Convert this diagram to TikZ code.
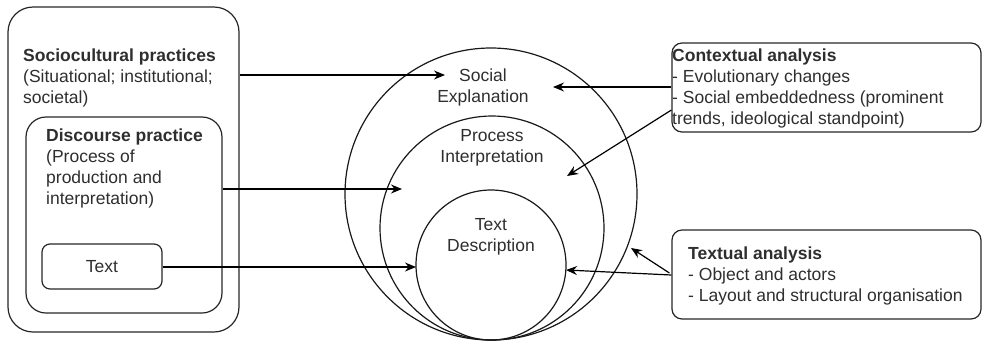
\documentclass[tikz,border=0pt]{standalone}
\usepackage{fontspec}
\setmainfont{Liberation Sans}
\usetikzlibrary{arrows.meta,calc}
\begin{document}
\begin{tikzpicture}[x=1pt,y=-1pt,
  every node/.style={font=\fontsize{17.5}{21}\selectfont, text=black!82},
  box/.style={draw=black!85, line width=1.2pt, fill=none},
  ring/.style={draw=black!90, line width=1.2pt, circle, inner sep=0pt},
  lbl/.style={align=left, inner sep=0pt},
  clbl/.style={align=center, inner sep=0pt},
  arr/.style={draw=black, line width=1.2pt, -{Stealth[length=11pt,width=9pt]}}]
\useasboundingbox (0,0) rectangle (982,341);
% boxes
\node[box, rounded corners=25pt, minimum width=231pt, minimum height=325pt] (socio) at (123.5,169.5) {};
\node[box, rounded corners=20pt, minimum width=196pt, minimum height=196pt] (disc) at (124,215) {};
\node[box, rounded corners=8pt, minimum width=120pt, minimum height=45pt] (textbox) at (102,266.5) {Text};
\node[box, rounded corners=10pt, minimum width=309pt, minimum height=89pt] (ctx) at (826.5,87.5) {};
\node[box, rounded corners=10pt, minimum width=309pt, minimum height=89pt] (txt) at (826.5,274.5) {};
% circles
\node[ring, minimum size=292pt] (outer) at (491,194) {};
\node[ring, minimum size=224pt] (mid) at (492,228) {};
\node[ring, minimum size=150pt] (inner) at (491,265) {};
% texts
\node[lbl, anchor=west] (sociot) at (23,78) {\textbf{Sociocultural practices}\\(Situational; institutional;\\societal)};
\node[lbl, anchor=west] (disct) at (46,168) {\textbf{Discourse practice}\\(Process of\\production and\\interpretation)};
\node[lbl, anchor=west] (ctxt) at (672,88) {\textbf{Contextual analysis}\\- Evolutionary changes\\- Social embeddedness (prominent\\trends, ideological standpoint)};
\node[lbl, anchor=west] (txtt) at (688,276) {\textbf{Textual analysis}\\- Object and actors\\- Layout and structural organisation};
\node[clbl] (soc) at (483,87) {Social\\Explanation};
\node[clbl] (proc) at (492,148) {Process\\Interpretation};
\node[clbl] (tdesc) at (491,237) {Text\\Description};
% arrow targets
\coordinate (tA) at (445,75);
\coordinate (tB) at (402,189);
\coordinate (tC) at (416,267);
\coordinate (tD) at (553,87);
\coordinate (tE) at (567,176);
\coordinate (tF) at (631,248);
\coordinate (tG) at (566,270);
% arrows
\draw[arr] (socio.east |- tA) -- (tA);
\draw[arr] (disc.east |- tB) -- (tB);
\draw[arr] (textbox.east |- tC) -- (tC);
\draw[arr] (ctx.west |- tD) -- (tD);
\draw[arr] ($(ctx.west)+(0,22.5)$) -- (tE);
\draw[arr] ($(txt.west)+(-2,-1.5)$) -- (tF);
\draw[arr] ($(txt.west)+(0,0.5)$) -- (tG);
\end{tikzpicture}
\end{document}
